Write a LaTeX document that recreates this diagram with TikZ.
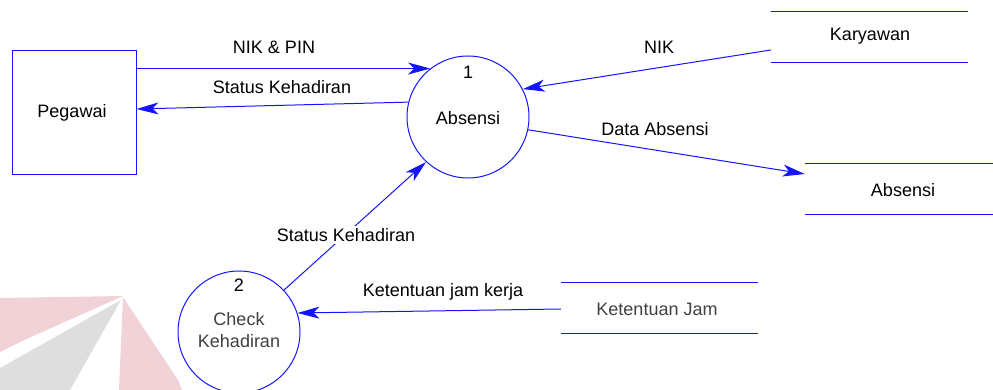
\documentclass[tikz,border=0pt]{standalone}
\usepackage{fontspec}
\setmainfont{Liberation Sans}
\usetikzlibrary{arrows.meta}
\definecolor{dfdblue}{RGB}{20,20,255}
\definecolor{wmpink}{RGB}{240,210,215}
\definecolor{wmgray}{RGB}{222,222,222}
\definecolor{txtgray}{RGB}{64,64,64}
\tikzset{
  proc/.style={circle, draw=dfdblue, line width=1pt, minimum size=122pt, inner sep=0pt},
  ent/.style={rectangle, draw=dfdblue, line width=1pt, minimum width=124pt, minimum height=124pt},
  store/.style={rectangle, minimum height=50pt, inner sep=0pt},
  txt/.style={font=\fontsize{18}{21}\selectfont, text=black, inner sep=1pt},
  gtxt/.style={txt, text=txtgray},
  flabel/.style={txt, fill=white, inner sep=2pt},
  flow/.style={draw=dfdblue, line width=1pt, -{Stealth[length=22pt,width=12pt,inset=6pt]}},
  storeline/.style={draw=dfdblue, line width=1pt}
}
\begin{document}
\begin{tikzpicture}[x=1pt,y=-1pt]
\useasboundingbox (0,0) rectangle (993,390);
% watermark
\fill[wmpink] (0,298) -- (123,296) -- (20,342) -- (0,352) -- cycle;
\fill[wmgray] (121,300) -- (0,368) -- (0,390) -- (70,390) -- cycle;
\fill[wmpink] (123,297) -- (119,390) -- (182,390) -- (178,380) -- cycle;
% external entity
\node[ent] (peg) at (74,113) {};
\node[txt] (pegt) at (72,113) {Pegawai};
% processes
\node[proc, fill=white] (c1) at (468,117) {};
\node[txt] (c1n) at (468,72) {1};
\node[txt] (c1t) at (468,118) {Absensi};
\node[proc, fill=white] (c2) at (239,332) {};
\node[txt] (c2n) at (239,285) {2};
\node[gtxt] (c2t) at (239,319) {Check};
\node[gtxt] (c2u) at (239,341) {Kehadiran};
% data stores
\node[store, minimum width=197pt] (ks) at (869.5,37) {};
\draw[storeline] (ks.north west) -- (ks.north east);
\draw[storeline] (ks.south west) -- (ks.south east);
\node[txt] (kst) at (870,36) {Karyawan};
\node[store, minimum width=188pt] (as) at (899,189) {};
\draw[storeline] (as.north west) -- (as.north east);
\draw[storeline] (as.south west) -- (as.south east);
\node[txt] (ast) at (903,190) {Absensi};
\node[store, minimum width=197pt] (js) at (659.5,308) {};
\draw[storeline] (js.north west) -- (js.north east);
\draw[storeline] (js.south west) -- (js.south east);
\node[gtxt] (jst) at (657,309) {Ketentuan Jam};
% flows
\draw[flow] (c1.128 -| peg.east) -- (c1.128);
\node[flabel] (l1) at (274,47) {NIK \& PIN};
\draw[flow] (c1.166) -- ([yshift=4pt]peg.east);
\node[flabel] (l2) at (282,87) {Status Kehadiran};
\draw[flow] ([yshift=-13pt]ks.west) -- (c1.27);
\node[flabel] (l3) at (659,47) {NIK};
\draw[flow] (c1.-12) -- ([yshift=15pt]as.west);
\node[flabel] (l4) at (655,129) {Data Absensi};
\draw[flow] (c2.43) -- (c1.-133);
\node[flabel] (l5) at (346,235) {Status Kehadiran};
\draw[flow] ([yshift=-1pt]js.west) -- (c2.18);
\node[flabel] (l6) at (443,292) {Ketentuan jam kerja};
\end{tikzpicture}
\end{document}
